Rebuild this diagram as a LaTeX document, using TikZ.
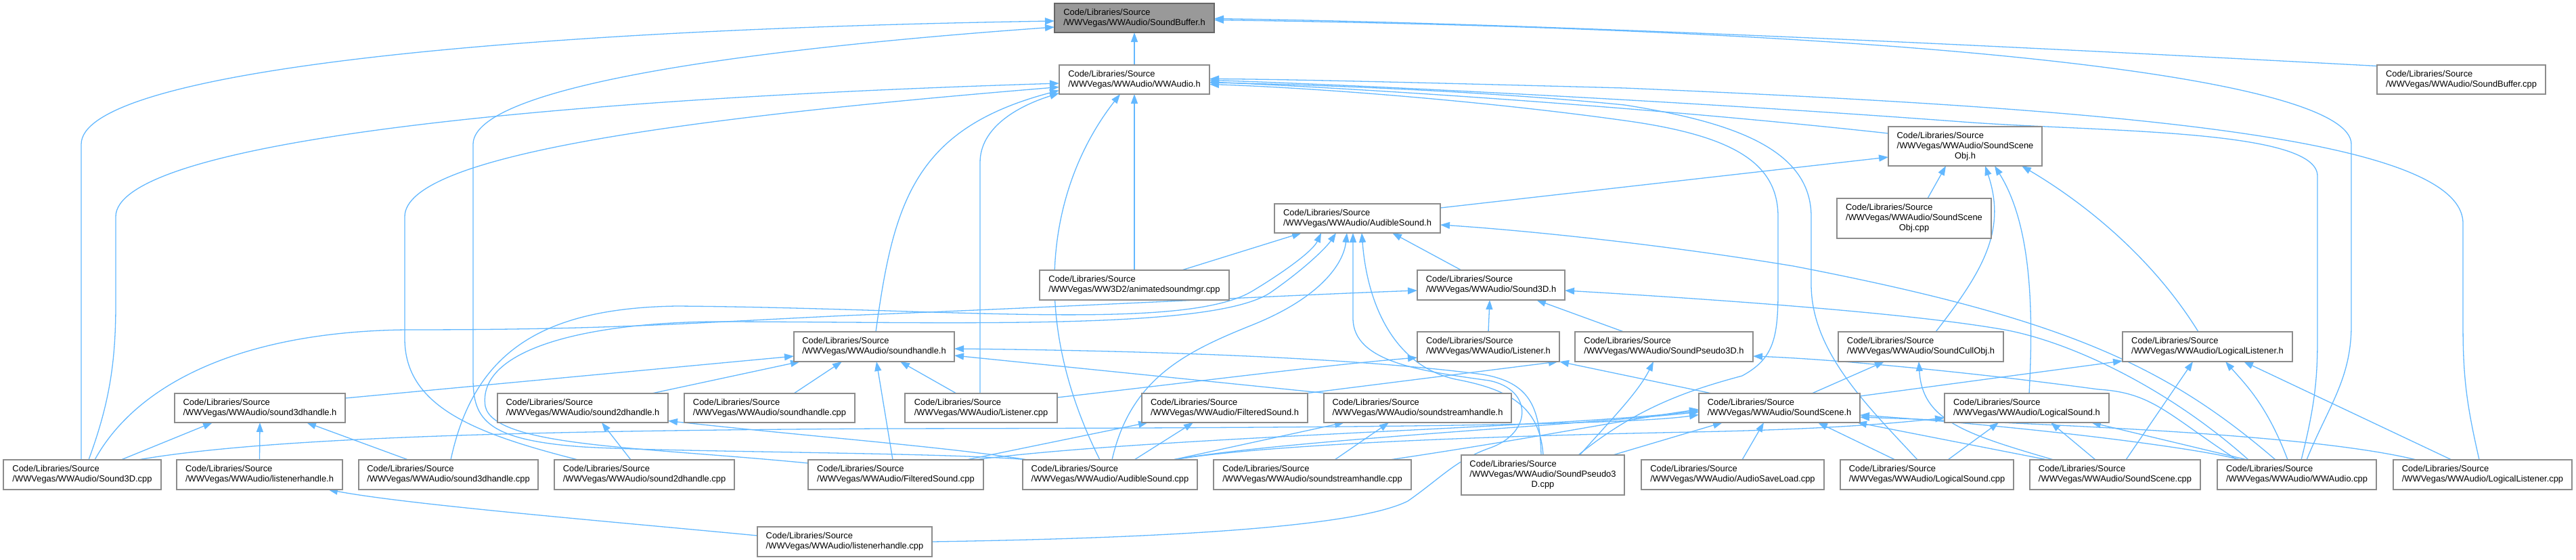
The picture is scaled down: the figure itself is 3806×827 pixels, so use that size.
\documentclass[tikz,border=0pt]{standalone}
\usepackage{fontspec}
\setmainfont{Liberation Sans}
\usetikzlibrary{arrows.meta}
\definecolor{edgec}{HTML}{63B8FF}
\definecolor{boxc}{HTML}{8C8C8C}
\definecolor{rootf}{HTML}{999999}
\definecolor{rootd}{HTML}{666666}
\pgfdeclarelayer{bg}
\pgfsetlayers{bg,main}
\newcommand{\lblA}[1]{\begin{tabular}{@{}l@{}}Code/Libraries/Source\\#1\end{tabular}}
\newcommand{\lblB}[2]{\begin{tabular}{@{}l@{}}Code/Libraries/Source\\#1\\\multicolumn{1}{@{}c@{}}{#2}\end{tabular}}
\begin{document}
\begin{tikzpicture}[x=1pt,y=-1pt,
  box/.style={draw=boxc, fill=white, line width=1.5pt, inner sep=0pt, outer sep=0pt,
    font=\fontsize{12.9}{15}\selectfont, minimum height=43pt},
  rootbox/.style={box, fill=rootf, draw=rootd},
  e/.style={draw=edgec, line width=1.3pt, -{Triangle[length=14pt,width=10pt]}}]
\useasboundingbox (0,0) rectangle (3806,827);
% row 0-3
\node[rootbox, minimum width=236pt] (SBh) at (1676,26.5) {\lblA{/WWVegas/WWAudio/SoundBuffer.h}};
\node[box, minimum width=222pt] (WWAh) at (1676,117.5) {\lblA{/WWVegas/WWAudio/WWAudio.h}};
\node[box, minimum width=249pt] (SBcpp) at (3636.5,117.5) {\lblA{/WWVegas/WWAudio/SoundBuffer.cpp}};
\node[box, minimum width=227pt, minimum height=58pt] (SSOh) at (2903.5,216) {\lblB{/WWVegas/WWAudio/SoundScene}{Obj.h}};
\node[box, minimum width=245pt] (ASh) at (2005.5,322.5) {\lblA{/WWVegas/WWAudio/AudibleSound.h}};
\node[box, minimum width=228pt, minimum height=59pt] (SSOcpp) at (2828,322.5) {\lblB{/WWVegas/WWAudio/SoundScene}{Obj.cpp}};
% row 4
\node[box, minimum width=280pt, minimum height=44pt] (ASMcpp) at (1676,421) {\lblA{/WWVegas/WW3D2/animatedsoundmgr.cpp}};
\node[box, minimum width=218pt, minimum height=44pt] (S3Dh) at (2203,421) {\lblA{/WWVegas/WWAudio/Sound3D.h}};
% row 5
\node[box, minimum width=237pt, minimum height=44pt] (SHh) at (1291.5,512) {\lblA{/WWVegas/WWAudio/soundhandle.h}};
\node[box, minimum width=210pt, minimum height=44pt] (Lh) at (2199,512) {\lblA{/WWVegas/WWAudio/Listener.h}};
\node[box, minimum width=263pt, minimum height=44pt] (SP3Dh) at (2458.5,512) {\lblA{/WWVegas/WWAudio/SoundPseudo3D.h}};
\node[box, minimum width=244pt, minimum height=44pt] (SCOh) at (2838,512) {\lblA{/WWVegas/WWAudio/SoundCullObj.h}};
\node[box, minimum width=251pt, minimum height=44pt] (LLh) at (3261.5,512) {\lblA{/WWVegas/WWAudio/LogicalListener.h}};
% row 6
\node[box, minimum width=252pt] (S3DHh) at (384,602.5) {\lblA{/WWVegas/WWAudio/sound3dhandle.h}};
\node[box, minimum width=252pt] (S2DHh) at (861,602.5) {\lblA{/WWVegas/WWAudio/sound2dhandle.h}};
\node[box, minimum width=252pt] (SHcpp) at (1137,602.5) {\lblA{/WWVegas/WWAudio/soundhandle.cpp}};
\node[box, minimum width=225pt] (Lcpp) at (1449.5,602.5) {\lblA{/WWVegas/WWAudio/Listener.cpp}};
\node[box, minimum width=245pt] (FSh) at (1809.5,602.5) {\lblA{/WWVegas/WWAudio/FilteredSound.h}};
\node[box, minimum width=277pt] (SSHh) at (2094.5,602.5) {\lblA{/WWVegas/WWAudio/soundstreamhandle.h}};
\node[box, minimum width=238pt] (SSh) at (2629,602.5) {\lblA{/WWVegas/WWAudio/SoundScene.h}};
\node[box, minimum width=243pt] (LSh) at (2994.5,602.5) {\lblA{/WWVegas/WWAudio/LogicalSound.h}};
% row 7
\node[box, minimum width=233pt, minimum height=44pt] (S3Dcpp) at (121.5,701) {\lblA{/WWVegas/WWAudio/Sound3D.cpp}};
\node[box, minimum width=245pt, minimum height=44pt] (LHh) at (383.5,701) {\lblA{/WWVegas/WWAudio/listenerhandle.h}};
\node[box, minimum width=265pt, minimum height=44pt] (S3DHcpp) at (662.5,701) {\lblA{/WWVegas/WWAudio/sound3dhandle.cpp}};
\node[box, minimum width=266pt, minimum height=44pt] (S2DHcpp) at (952,701) {\lblA{/WWVegas/WWAudio/sound2dhandle.cpp}};
\node[box, minimum width=259pt, minimum height=44pt] (FScpp) at (1323.5,701) {\lblA{/WWVegas/WWAudio/FilteredSound.cpp}};
\node[box, minimum width=258pt, minimum height=44pt] (AScpp) at (1640,701) {\lblA{/WWVegas/WWAudio/AudibleSound.cpp}};
\node[box, minimum width=292pt, minimum height=44pt] (SSHcpp) at (1939,701) {\lblA{/WWVegas/WWAudio/soundstreamhandle.cpp}};
\node[box, minimum width=241pt, minimum height=59pt] (SP3Dcpp) at (2279.5,701.5) {\lblB{/WWVegas/WWAudio/SoundPseudo3}{D.cpp}};
\node[box, minimum width=270pt, minimum height=44pt] (ASLcpp) at (2560,701) {\lblA{/WWVegas/WWAudio/AudioSaveLoad.cpp}};
\node[box, minimum width=256pt, minimum height=44pt] (LScpp) at (2847,701) {\lblA{/WWVegas/WWAudio/LogicalSound.cpp}};
\node[box, minimum width=252pt, minimum height=44pt] (SScpp) at (3125,701) {\lblA{/WWVegas/WWAudio/SoundScene.cpp}};
\node[box, minimum width=235pt, minimum height=44pt] (WWAcpp) at (3393.5,701) {\lblA{/WWVegas/WWAudio/WWAudio.cpp}};
\node[box, minimum width=264pt, minimum height=44pt] (LLcpp) at (3668,701) {\lblA{/WWVegas/WWAudio/LogicalListener.cpp}};
% row 8
\node[box, minimum width=258pt, minimum height=44pt] (LHcpp) at (1248,800) {\lblA{/WWVegas/WWAudio/listenerhandle.cpp}};

\begin{pgfonlayer}{bg}
% into SoundBuffer.h
\draw[e] (WWAh.north) -- (SBh.south);
\draw[e] ([yshift=20pt]SBcpp.west) .. controls (3000,70) and (2300,35) .. ([yshift=-1pt]SBh.east);
\draw[e] ([xshift=14.5pt]WWAcpp.north) .. controls (3440,600) and (3474,560) .. (3474,480) -- (3474,213) .. controls (3474,120) and (2900,45) .. ([yshift=-3pt]SBh.east);
\draw[e] ([xshift=-1.5pt]S3Dcpp.north) -- (120,213) .. controls (120,110) and (700,45) .. ([yshift=-4.5pt]SBh.west);
\draw[e] ([xshift=-122pt]AScpp.north) .. controls (1400,668) and (1000,668) .. (862,660) .. controls (720,650) and (699,620) .. (699,560) -- (699,213) .. controls (699,140) and (1000,80) .. ([yshift=-13.5pt]SBh.west);
% into WWAudio.h
\draw[e] ([xshift=9.5pt]S3Dcpp.north) .. controls (160,600) and (171,540) .. (171,450) -- (171,320) .. controls (171,220) and (700,150) .. ([yshift=-5.5pt]WWAh.west);
\draw[e] ([xshift=-98pt]S2DHcpp.north) .. controls (700,640) and (598,600) .. (598,500) -- (598,320) .. controls (598,230) and (1000,175) .. ([yshift=-11pt]WWAh.west);
\draw[e] ([xshift=2.5pt]SHh.north) .. controls (1320,300) and (1350,190) .. ([yshift=-16pt]WWAh.west);
\draw[e] ([xshift=-1.5pt]Lcpp.north) -- (1448,240) .. controls (1448,190) and (1500,158) .. ([yshift=-20pt]WWAh.west);
\draw[e] ([xshift=-15pt]AScpp.north) .. controls (1510,450) and (1560,260) .. ([xshift=-21pt]WWAh.south);
\draw[e] (ASMcpp.north) -- (WWAh.south);
\draw[e] ([yshift=19pt]SSOh.west) .. controls (2500,165) and (2100,135) .. ([yshift=-3.5pt]WWAh.east);
\draw[e] ([xshift=-5pt]LLcpp.north) .. controls (3645,600) and (3639,560) .. (3639,480) -- (3639,330) .. controls (3639,200) and (3100,160) .. (2400,130) .. controls (2100,122) and (1900,117) .. ([yshift=1pt]WWAh.east);
\draw[e] ([xshift=6.5pt]WWAcpp.north) .. controls (3420,600) and (3424,560) .. (3424,500) -- (3424,260) .. controls (3424,190) and (3100,195) .. (2900,180) .. controls (2500,150) and (2000,125) .. ([yshift=-1pt]WWAh.east);
\draw[e] ([xshift=-14pt]LScpp.north) .. controls (2760,600) and (2676,520) .. (2676,420) -- (2676,320) .. controls (2676,220) and (2560,180) .. (2400,155) .. controls (2200,135) and (1950,125) .. ([yshift=-4.5pt]WWAh.east);
\draw[e] ([xshift=52.5pt]SP3Dcpp.north) .. controls (2420,600) and (2500,575) .. (2574,555) .. controls (2620,530) and (2627,500) .. (2627,430) -- (2627,320) .. controls (2627,240) and (2560,200) .. (2400,178) .. controls (2200,150) and (1950,130) .. ([yshift=-7pt]WWAh.east);
% into SoundSceneObj.h
\draw[e] ([xshift=20pt]SSOcpp.north) -- ([xshift=-28.5pt]SSOh.south);
\draw[e] ([yshift=15.5pt]ASh.east) -- ([yshift=-16pt]SSOh.west);
\draw[e] ([xshift=22pt]SCOh.north) .. controls (2930,400) and (2965,340) .. ([xshift=29.5pt]SSOh.south);
\draw[e] ([xshift=3.5pt]LSh.north) .. controls (3005,450) and (3000,330) .. ([xshift=43.5pt]SSOh.south);
\draw[e] ([xshift=-13.5pt]LLh.north) .. controls (3180,380) and (3080,300) .. ([xshift=83.5pt]SSOh.south);
% into AudibleSound.h
\draw[e] ([xshift=70pt]ASMcpp.north) -- ([xshift=-82.5pt]ASh.south);
\draw[e] ([xshift=3.5pt]S3DHcpp.north) .. controls (700,520) and (800,455) .. (1000,452) .. controls (1400,455) and (1750,490) .. (1850,430) .. controls (1900,400) and (1940,370) .. ([xshift=-53.5pt]ASh.south);
\draw[e] ([yshift=17pt]FScpp.west) .. controls (950,660) and (730,660) .. (717,600) .. controls (705,520) and (850,478) .. (1050,475) .. controls (1400,475) and (1800,490) .. (1880,430) .. controls (1930,395) and (1960,365) .. ([xshift=-31.5pt]ASh.south);
\draw[e] ([xshift=3pt]AScpp.north) .. controls (1670,560) and (1750,520) .. (1850,480) .. controls (1950,440) and (1985,390) .. ([xshift=-15.5pt]ASh.south);
\draw[e] (LHcpp.east) .. controls (1700,795) and (2000,780) .. (2080,740) .. controls (2130,705) and (2150,680) .. (2200,662) .. controls (2265,640) and (2265,575) .. (2200,562) .. controls (2100,548) and (1999,535) .. (1999,470) -- ([xshift=-6.5pt]ASh.south);
\draw[e] ([xshift=0.5pt]SP3Dcpp.north) .. controls (2275,600) and (2230,575) .. (2150,560) .. controls (2060,540) and (2020,450) .. ([xshift=6.5pt]ASh.south);
\draw[e] ([xshift=-44pt]S3Dh.north) -- ([xshift=51.5pt]ASh.south);
\draw[e] ([xshift=-31.5pt]WWAcpp.north) .. controls (3200,540) and (3050,470) .. (2650,393) .. controls (2450,360) and (2250,340) .. ([yshift=-9.5pt]ASh.east);
% into Sound3D.h
\draw[e] (Lh.north) -- ([xshift=-2pt]S3Dh.south);
\draw[e] ([xshift=-59.5pt]SP3Dh.north) -- ([xshift=67pt]S3Dh.south);
\draw[e] ([xshift=18.5pt]S3Dcpp.north) .. controls (200,570) and (350,490) .. (600,487) .. controls (900,487) and (1000,478) .. (1250,466) .. controls (1600,452) and (1900,436) .. ([yshift=-8pt]S3Dh.west);
\draw[e] ([xshift=-71.5pt]WWAcpp.north) .. controls (3200,570) and (3050,500) .. (2950,485) .. controls (2800,460) and (2500,440) .. ([yshift=-8pt]S3Dh.east);
% into SoundPseudo3D.h
\draw[e] ([xshift=54.5pt]SP3Dcpp.north) .. controls (2380,620) and (2420,580) .. ([xshift=-15.5pt]SP3Dh.south);
\draw[e] ([xshift=-88.5pt]WWAcpp.north) .. controls (3200,610) and (3180,580) .. (3100,575) .. controls (2900,548) and (2700,530) .. ([yshift=-14pt]SP3Dh.east);
% into SoundCullObj.h
\draw[e] ([xshift=48pt]SSh.north) -- ([xshift=-54pt]SCOh.south);
\draw[e] ([xshift=-91pt]SScpp.north) .. controls (2900,640) and (2840,620) .. ([xshift=-3pt]SCOh.south);
% into LogicalListener.h
\draw[e] ([yshift=17.5pt]SSh.east) -- ([yshift=-21pt]LLh.west);
\draw[e] ([xshift=16pt]SScpp.north) -- ([xshift=-21.5pt]LLh.south);
\draw[e] ([xshift=-13.5pt]WWAcpp.north) .. controls (3350,600) and (3320,570) .. ([xshift=26.5pt]LLh.south);
\draw[e] ([xshift=-46pt]LLcpp.north) -- ([xshift=53.5pt]LLh.south);
% into SoundScene.h
\draw[e] ([xshift=-98pt]LLcpp.north) .. controls (3450,650) and (3200,632) .. ([yshift=-13.5pt]SSh.east);
\draw[e] ([xshift=-83.5pt]WWAcpp.north) .. controls (3250,662) and (3000,630) .. ([yshift=-10.5pt]SSh.east);
\draw[e] ([xshift=-47pt]LScpp.north) -- ([xshift=57pt]SSh.south);
\draw[e] ([xshift=-100pt]SScpp.north) -- ([xshift=115pt]SSh.south);
\draw[e] ([xshift=14pt]ASLcpp.north) -- ([xshift=-23pt]SSh.south);
\draw[e] ([xshift=103.5pt]SP3Dcpp.north) -- ([xshift=-84pt]SSh.south);
\draw[e] ([xshift=82.5pt]S3Dcpp.north) .. controls (400,645) and (800,636) .. (1300,633) .. controls (2000,632) and (2400,628) .. ([yshift=-10pt]SSh.west);
\draw[e] ([xshift=93pt]AScpp.north) .. controls (1900,650) and (2300,630) .. ([yshift=-6pt]SSh.west);
\draw[e] ([xshift=116.5pt]FScpp.north) .. controls (1700,645) and (2300,632) .. ([yshift=-4pt]SSh.west);
\draw[e] ([xshift=114pt]SSHcpp.north) .. controls (2250,650) and (2400,620) .. ([yshift=-2pt]SSh.west);
% into LogicalSound.h
\draw[e] ([xshift=31pt]LScpp.north) -- ([xshift=-41.5pt]LSh.south);
\draw[e] ([xshift=-29pt]SScpp.north) -- ([xshift=35.5pt]LSh.south);
\draw[e] ([xshift=-73.5pt]WWAcpp.north) -- ([xshift=95.5pt]LSh.south);
\draw[e] ([xshift=93pt]AScpp.north) .. controls (1900,652) and (2300,642) .. (2500,638) .. controls (2700,634) and (2800,625) .. ([yshift=-14.5pt]LSh.west);
% into soundstreamhandle.h, FilteredSound.h
\draw[e] ([xshift=33pt]SSHcpp.north) -- ([xshift=-42.5pt]SSHh.south);
\draw[e] ([xshift=93pt]AScpp.north) -- ([xshift=-108.5pt]SSHh.south);
\draw[e] ([xshift=36pt]AScpp.north) -- ([xshift=-46.5pt]FSh.south);
\draw[e] ([xshift=104.5pt]FScpp.north) -- ([xshift=-113.5pt]FSh.south);
% into soundhandle.h
\draw[e] ([xshift=-4.5pt]FScpp.north) -- ([xshift=3.5pt]SHh.south);
\draw[e] ([xshift=-36.5pt]Lcpp.north) -- ([xshift=38.5pt]SHh.south);
\draw[e] ([xshift=36pt]SHcpp.north) -- ([xshift=-47.5pt]SHh.south);
\draw[e] ([xshift=102pt]S2DHh.north) -- ([xshift=-109.5pt]SHh.south);
\draw[e] ([yshift=14.5pt]S3DHh.east) -- ([yshift=-14pt]SHh.west);
\draw[e] ([xshift=-132.5pt]SSHh.north) -- ([yshift=-13pt]SHh.east);
\draw[e] ([xshift=-2.5pt]SP3Dcpp.north) .. controls (2275,600) and (2260,565) .. (2191,553) .. controls (2000,528) and (1700,518) .. ([yshift=-3pt]SHh.east);
% into Listener.h
\draw[e] ([yshift=15.5pt]Lcpp.east) .. controls (1800,560) and (1950,540) .. ([yshift=-16pt]Lh.west);
\draw[e] ([xshift=119pt]FSh.north) -- ([xshift=103pt]Lh.south);
\draw[e] ([xshift=-100pt]SSh.north) -- ([xshift=105pt]Lh.south);
% left group
\draw[e] (LHh.north) -- (S3DHh.south);
\draw[e] ([xshift=57.5pt]S3Dcpp.north) -- ([xshift=-70pt]S3DHh.south);
\draw[e] ([xshift=-59.5pt]S3DHcpp.north) -- ([xshift=69pt]S3DHh.south);
\draw[e] ([xshift=-20pt]S2DHcpp.north) -- ([xshift=28pt]S2DHh.south);
\draw[e] ([yshift=9pt]LHcpp.west) .. controls (900,770) and (600,745) .. ([xshift=101.5pt]LHh.south);
\draw[e] ([xshift=-122pt]AScpp.north) .. controls (1400,660) and (1200,645) .. ([yshift=-19pt]S2DHh.east);
\end{pgfonlayer}
\end{tikzpicture}
\end{document}
